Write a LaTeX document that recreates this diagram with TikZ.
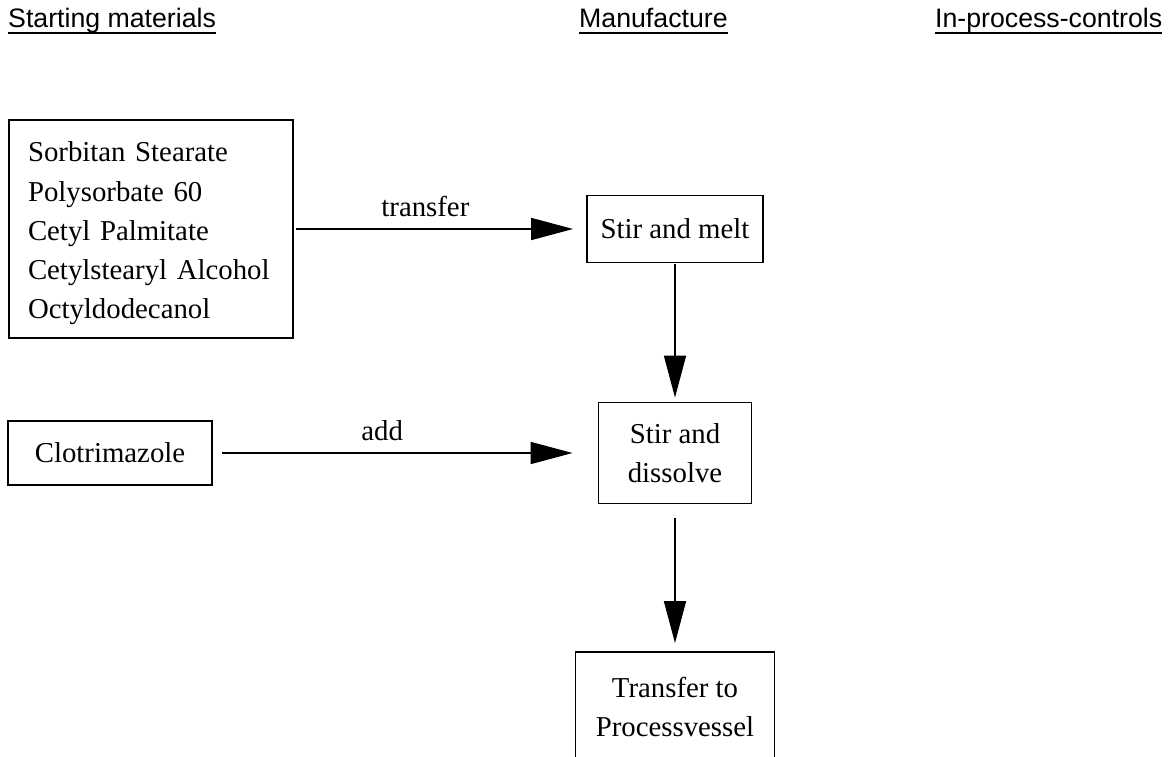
\documentclass[tikz,border=0pt]{standalone}
\usepackage{fontspec}
\setmainfont{Liberation Serif}
\newfontfamily\headfont{Liberation Sans}
\usetikzlibrary{arrows.meta, positioning}

\begin{document}
\begin{tikzpicture}[
    x=1pt, y=1pt,
    header/.style={anchor=base west, inner sep=0pt, font=\headfont\fontsize{26.7}{32}\selectfont},
    stepbox/.style={draw, line width=1.8pt, inner sep=0pt, align=center, font=\fontsize{28.8}{39.3}\selectfont},
    flow/.style={line width=1.6pt, -{Triangle[length=42pt, width=22pt]}},
    lbl/.style={font=\fontsize{28.8}{34}\selectfont, inner sep=0pt, anchor=base, yshift=13pt}
  ]
  \useasboundingbox (0,0) rectangle (1168,-757);
  \clip (0,0) rectangle (1168,-757);

  % column headers
  \node[header] (hdstart) at (8,-28) {Starting materials};
  \node[header] (hdmanu) at (579,-28) {Manufacture};
  \node[header] (hdipc) at (935,-28) {In-process-controls};
  \foreach \h in {hdstart, hdmanu, hdipc}
    \draw[line width=2pt] ([yshift=-5pt]\h.base west) -- ([yshift=-5pt]\h.base east);

  % boxes
  \node[stepbox, minimum width=284pt, minimum height=218pt, text width=246pt, text height=29pt, align=left] (materials) at (151,-229)
    {Sorbitan Stearate\\Polysorbate 60\\Cetyl Palmitate\\Cetylstearyl Alcohol\\Octyldodecanol};
  \node[stepbox, minimum width=176pt, minimum height=67pt] (melt) at (675,-229) {Stir and melt};
  \node[stepbox, minimum width=153pt, minimum height=101pt] (dissolve) at (675,-453) {Stir and\\dissolve};
  \node[stepbox, minimum width=204pt, minimum height=64pt] (clotri) at (110,-453) {Clotrimazole};
  \node[stepbox, minimum width=199pt, minimum height=110pt] (vessel) at (675,-707) {Transfer to\\Processvessel};

  % arrows
  \draw[flow, shorten <=2pt, shorten >=13pt] (materials.east) -- (melt.west) node[lbl, pos=0.45] {transfer};
  \draw[flow, shorten <=1pt, shorten >=4pt] (melt.south) -- (dissolve.north);
  \draw[flow, shorten <=9pt, shorten >=25pt] (clotri.east) -- (dissolve.west) node[lbl, pos=0.44] {add};
  \draw[flow, shorten <=14pt, shorten >=8pt] (dissolve.south) -- (vessel.north);
\end{tikzpicture}
\end{document}
